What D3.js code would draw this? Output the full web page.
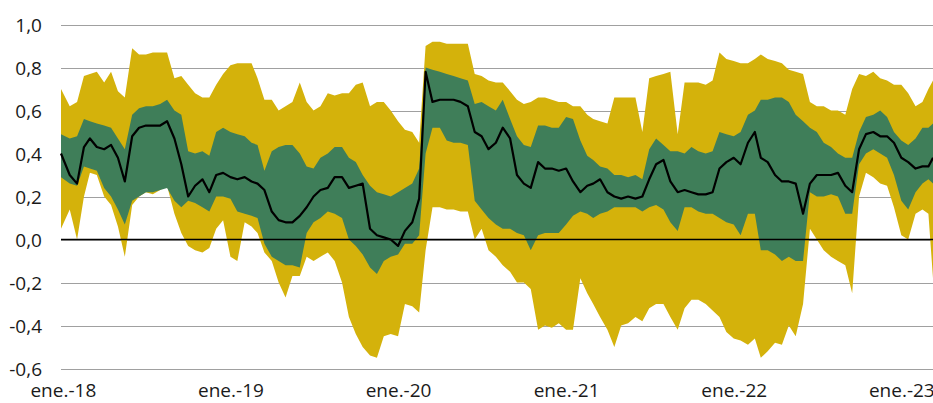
<!DOCTYPE html>
<html>
<head>
<meta charset="utf-8">
<script src="https://cdn.jsdelivr.net/npm/d3@7"></script>
<style>
  html, body { margin: 0; padding: 0; background: #ffffff; }
  svg { display: block; }
  text { font-family: "Open Sans", "Noto Sans", sans-serif; }
</style>
</head>
<body>
<div id="chart"></div>
<script>
// ---- data ----
const dates = ["2017-12-28",
"2018-01-16","2018-02-01","2018-02-16","2018-03-01","2018-03-16","2018-04-01","2018-04-16","2018-05-01","2018-05-16","2018-06-01","2018-06-16","2018-07-01","2018-07-16","2018-08-01","2018-08-16","2018-09-01","2018-09-16","2018-10-01","2018-10-16","2018-11-01","2018-11-16","2018-12-01","2018-12-16",
"2019-01-01","2019-01-16","2019-02-01","2019-02-16","2019-03-01","2019-03-16","2019-04-01","2019-04-16","2019-05-01","2019-05-16","2019-06-01","2019-06-16","2019-07-01","2019-07-16","2019-08-01","2019-08-16","2019-09-01","2019-09-16","2019-10-01","2019-10-16","2019-11-01","2019-11-16","2019-12-01","2019-12-16",
"2020-01-01","2020-01-16","2020-02-01","2020-02-16","2020-03-01","2020-03-16","2020-04-01","2020-04-16","2020-05-01","2020-05-16","2020-06-01","2020-06-16","2020-07-01","2020-07-16","2020-08-01","2020-08-16","2020-09-01","2020-09-16","2020-10-01","2020-10-16","2020-11-01","2020-11-16","2020-12-01","2020-12-16",
"2021-01-01","2021-01-16","2021-02-01","2021-02-16","2021-03-01","2021-03-16","2021-04-01","2021-04-16","2021-05-01","2021-05-16","2021-06-01","2021-06-16","2021-07-01","2021-07-16","2021-08-01","2021-08-16","2021-09-01","2021-09-16","2021-10-01","2021-10-16","2021-11-01","2021-11-16","2021-12-01","2021-12-16",
"2022-01-01","2022-01-16","2022-02-01","2022-02-16","2022-03-01","2022-03-16","2022-04-01","2022-04-16","2022-05-01","2022-05-16","2022-06-01","2022-06-16","2022-07-01","2022-07-16","2022-08-01","2022-08-16","2022-09-01","2022-09-16","2022-10-01","2022-10-16","2022-11-01","2022-11-16","2022-12-01","2022-12-16",
"2023-01-01","2023-01-16","2023-02-01","2023-02-16","2023-03-01","2023-03-11"];

const outerUpper = [0.70,0.62,0.64,0.76,0.77,0.78,0.73,0.78,0.69,0.66,
0.89,0.86,0.86,0.87,0.87,0.87,0.75,0.76,0.72,0.68,
0.66,0.66,0.72,0.77,0.81,0.82,0.82,0.82,0.75,0.65,
0.65,0.60,0.62,0.64,0.73,0.64,0.60,0.62,0.68,0.67,
0.68,0.68,0.72,0.73,0.62,0.64,0.64,0.60,0.55,0.51,
0.50,0.45,0.90,0.92,0.92,0.91,0.91,0.91,0.91,0.77,
0.76,0.74,0.73,0.73,0.69,0.65,0.63,0.64,0.66,0.66,
0.65,0.64,0.64,0.62,0.62,0.58,0.56,0.55,0.54,0.66,
0.66,0.66,0.66,0.50,0.75,0.76,0.77,0.78,0.49,0.73,
0.73,0.73,0.72,0.74,0.87,0.84,0.83,0.82,0.82,0.84,
0.86,0.84,0.83,0.82,0.79,0.78,0.77,0.64,0.62,0.62,
0.60,0.60,0.58,0.70,0.77,0.76,0.78,0.75,0.74,0.72,
0.72,0.68,0.62,0.64,0.70,0.74];

const innerUpper = [0.49,0.47,0.48,0.56,0.55,0.54,0.53,0.52,0.47,0.42,
0.58,0.61,0.62,0.62,0.63,0.65,0.60,0.58,0.41,0.40,
0.41,0.39,0.50,0.52,0.50,0.49,0.48,0.45,0.44,0.32,
0.41,0.43,0.44,0.44,0.40,0.34,0.33,0.38,0.40,0.43,
0.43,0.38,0.36,0.30,0.25,0.22,0.21,0.20,0.22,0.24,
0.26,0.33,0.80,0.79,0.78,0.77,0.76,0.75,0.74,0.63,
0.64,0.62,0.60,0.65,0.56,0.48,0.44,0.43,0.53,0.53,
0.52,0.52,0.57,0.56,0.46,0.39,0.37,0.34,0.33,0.30,
0.30,0.29,0.30,0.28,0.42,0.47,0.44,0.41,0.41,0.40,
0.43,0.41,0.40,0.41,0.50,0.49,0.48,0.50,0.58,0.60,
0.65,0.65,0.66,0.66,0.64,0.58,0.55,0.52,0.50,0.45,
0.43,0.40,0.38,0.38,0.50,0.57,0.58,0.60,0.57,0.50,
0.46,0.44,0.47,0.52,0.52,0.54];

const median = [0.40,0.30,0.26,0.43,0.47,0.43,0.42,0.44,0.38,0.27,
0.48,0.52,0.53,0.53,0.53,0.55,0.47,0.35,0.20,0.25,
0.28,0.22,0.30,0.31,0.29,0.28,0.29,0.27,0.26,0.23,
0.13,0.09,0.08,0.08,0.11,0.15,0.20,0.23,0.24,0.29,
0.29,0.24,0.25,0.26,0.05,0.02,0.01,0.00,-0.03,0.04,
0.08,0.19,0.78,0.64,0.65,0.65,0.65,0.64,0.62,0.50,
0.48,0.42,0.45,0.52,0.47,0.30,0.26,0.24,0.36,0.33,
0.33,0.32,0.33,0.27,0.22,0.25,0.26,0.28,0.22,0.20,
0.19,0.20,0.19,0.20,0.28,0.35,0.37,0.27,0.22,0.23,
0.22,0.21,0.21,0.22,0.33,0.36,0.38,0.35,0.45,0.50,
0.38,0.36,0.30,0.27,0.27,0.26,0.12,0.26,0.30,0.30,
0.30,0.31,0.25,0.22,0.42,0.49,0.50,0.48,0.48,0.45,
0.38,0.36,0.33,0.34,0.34,0.38];

const innerLower = [0.29,0.26,0.25,0.34,0.33,0.32,0.24,0.20,0.14,0.07,
0.18,0.20,0.22,0.22,0.23,0.24,0.18,0.15,0.18,0.17,
0.15,0.13,0.20,0.20,0.19,0.13,0.12,0.11,0.10,-0.02,
-0.08,-0.10,-0.12,-0.12,-0.13,0.03,0.08,0.10,0.13,0.12,
0.10,0.00,-0.03,-0.07,-0.13,-0.16,-0.10,-0.08,-0.07,-0.02,
-0.02,0.02,0.40,0.52,0.52,0.46,0.45,0.45,0.44,0.18,
0.14,0.10,0.07,0.05,0.05,0.03,0.02,-0.05,0.02,0.03,
0.03,0.03,0.07,0.11,0.13,0.12,0.10,0.12,0.13,0.15,
0.15,0.15,0.15,0.13,0.15,0.16,0.14,0.08,0.04,0.15,
0.15,0.13,0.12,0.12,0.10,0.08,0.07,0.02,0.12,0.12,
-0.05,-0.05,-0.07,-0.10,-0.08,-0.10,-0.10,0.22,0.20,0.20,
0.21,0.20,0.12,0.12,0.35,0.40,0.42,0.40,0.38,0.30,
0.18,0.14,0.22,0.26,0.28,0.26];

const outerLower = [0.05,0.14,0.00,0.20,0.31,0.30,0.20,0.16,0.06,-0.08,
0.16,0.20,0.22,0.21,0.23,0.25,0.12,0.03,-0.03,-0.05,
-0.06,-0.04,0.05,0.09,-0.08,-0.10,0.08,0.06,0.03,-0.06,
-0.10,-0.20,-0.27,-0.17,-0.17,-0.08,-0.10,-0.08,-0.06,-0.10,
-0.20,-0.36,-0.44,-0.50,-0.54,-0.55,-0.45,-0.44,-0.45,-0.30,
-0.31,-0.34,-0.05,0.15,0.15,0.14,0.14,0.13,0.13,0.00,
0.05,-0.05,-0.08,-0.12,-0.15,-0.20,-0.20,-0.23,-0.42,-0.40,
-0.41,-0.39,-0.42,-0.42,-0.18,-0.25,-0.30,-0.36,-0.42,-0.50,
-0.40,-0.39,-0.36,-0.38,-0.32,-0.30,-0.30,-0.36,-0.42,-0.32,
-0.28,-0.28,-0.30,-0.33,-0.36,-0.43,-0.46,-0.47,-0.49,-0.46,
-0.55,-0.52,-0.48,-0.49,-0.40,-0.45,-0.30,0.05,0.00,-0.05,
-0.08,-0.10,-0.12,-0.25,0.20,0.31,0.29,0.26,0.25,0.15,
0.02,0.00,0.12,0.14,0.12,-0.18];

const yTickValues = [-0.6,-0.4,-0.2,0.0,0.2,0.4,0.6,0.8,1.0];
const yTickLabels = ["-0,6","-0,4","-0,2","0,0","0,2","0,4","0,6","0,8","1,0"];
const xTickDates = ["2018-01-01","2019-01-01","2020-01-01","2021-01-01","2022-01-01","2023-01-01"];
const xTickLabels = ["ene.-18","ene.-19","ene.-20","ene.-21","ene.-22","ene.-23"];

// ---- layout ----
const W = 933, H = 403;
const plotLeft = 61, plotRight = 933, plotTop = 24.5, plotBottom = 368.5;
const parse = d3.timeParse("%Y-%m-%d");

const rows = dates.map((d, i) => ({
  date: parse(d),
  u: outerUpper[i], iu: innerUpper[i], m: median[i], il: innerLower[i], l: outerLower[i]
}));

const x = d3.scaleTime()
  .domain([parse("2017-12-28"), parse("2023-03-11")])
  .range([plotLeft, plotRight]);
const y = d3.scaleLinear().domain([-0.6, 1.0]).range([plotBottom, plotTop]);

const svg = d3.select("#chart").append("svg")
  .attr("width", W).attr("height", H);

// gridlines + y labels via axis
const yAxis = d3.axisLeft(y)
  .tickValues(yTickValues)
  .tickSize(-(plotRight - plotLeft))
  .tickPadding(19)
  .tickFormat((d, i) => yTickLabels[i]);

const gy = svg.append("g")
  .attr("transform", `translate(${plotLeft},0)`)
  .call(yAxis);
gy.select(".domain").remove();
gy.selectAll(".tick line")
  .attr("stroke", "#a0a0a0")
  .attr("stroke-width", 1)
  .attr("shape-rendering", "crispEdges");
gy.selectAll(".tick text")
  .attr("fill", "#1a1a1a")
  .attr("font-size", 19)
  .attr("dy", "0.36em");

// bands
const outerArea = d3.area()
  .x(d => x(d.date)).y0(d => y(d.l)).y1(d => y(d.u));
const innerArea = d3.area()
  .x(d => x(d.date)).y0(d => y(d.il)).y1(d => y(d.iu));

svg.append("path").datum(rows)
  .attr("d", outerArea)
  .attr("fill", "#d4b20b");
svg.append("path").datum(rows)
  .attr("d", innerArea)
  .attr("fill", "#3f7e59");

// zero line
svg.append("line")
  .attr("x1", plotLeft).attr("x2", plotRight)
  .attr("y1", y(0)).attr("y2", y(0))
  .attr("stroke", "#000").attr("stroke-width", 1.6);

// median line
const medLine = d3.line().x(d => x(d.date)).y(d => y(d.m));
svg.append("path").datum(rows)
  .attr("d", medLine)
  .attr("fill", "none")
  .attr("stroke", "#000")
  .attr("stroke-width", 2.2)
  .attr("stroke-linejoin", "round");

// x axis labels
const xAxis = d3.axisBottom(x)
  .tickValues(xTickDates.map(parse))
  .tickSize(0)
  .tickPadding(15)
  .tickFormat((d, i) => xTickLabels[i]);
const gx = svg.append("g")
  .attr("transform", `translate(0,${plotBottom})`)
  .call(xAxis);
gx.select(".domain").remove();
gx.selectAll(".tick text")
  .attr("fill", "#1a1a1a")
  .attr("font-size", 19);
</script>
</body>
</html>
